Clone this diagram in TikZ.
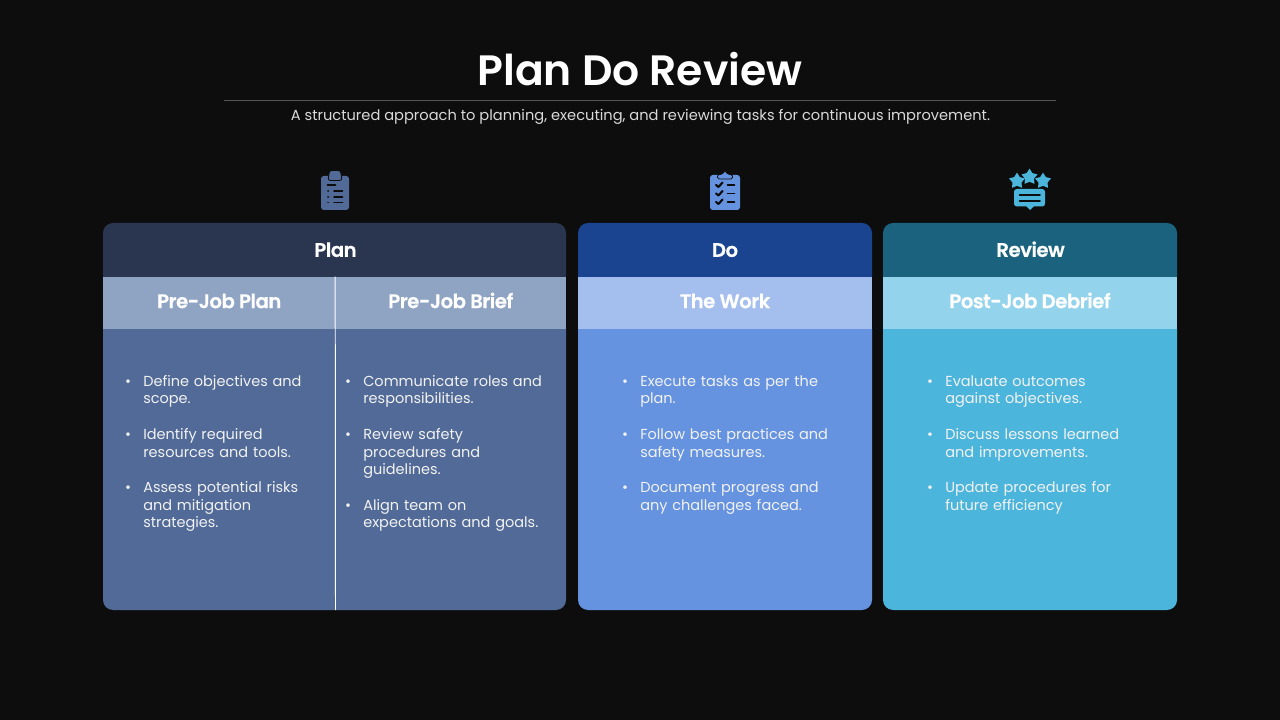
\documentclass[tikz,border=0pt]{standalone}
\usepackage{fontspec}
\setmainfont{Poppins}
\newfontfamily\semifont[LetterSpace=-2.5,FakeBold=0.4]{Poppins SemiBold}
\newfontfamily\titlefont{Poppins SemiBold}
\usetikzlibrary{shapes.geometric}

\definecolor{bgdark}{HTML}{0D0D0D}
\definecolor{planhead}{HTML}{2A3650}
\definecolor{plansub}{HTML}{8FA3C3}
\definecolor{planbody}{HTML}{516A97}
\definecolor{dohead}{HTML}{1A448F}
\definecolor{dosub}{HTML}{A4BFEE}
\definecolor{dobody}{HTML}{6593E0}
\definecolor{revhead}{HTML}{1A627E}
\definecolor{revsub}{HTML}{93D3EC}
\definecolor{revbody}{HTML}{4CB5DC}

\newenvironment{tasklist}{%
  \begin{list}{\textbullet}{\setlength{\leftmargin}{11.4pt}\setlength{\labelsep}{8.7pt}%
    \setlength{\labelwidth}{5.4pt}\setlength{\topsep}{0pt}\setlength{\partopsep}{0pt}%
    \setlength{\parsep}{0pt}\setlength{\itemsep}{12.8pt}\setlength{\rightmargin}{0pt}}%
  \raggedright}{\end{list}}

\begin{document}
\begin{tikzpicture}[x=0.025cm, y=-0.025cm,
        head/.style={font=\semifont\fontsize{14}{16}\selectfont, text=white, inner sep=0pt, text height=12pt, text depth=1.5pt},
        subbox/.style={font=\semifont\fontsize{14}{16}\selectfont, text=white, inner sep=0pt, minimum height=1.3cm, text height=11.5pt, text depth=4.2pt},
        items/.style={anchor=north west, inner sep=0pt, text width=5.5cm, text=white!95!black,
            font=\fontsize{10.3}{12.5}\selectfont},
        tick/.style={draw=bgdark, line width=1.2pt, line cap=round, line join=round},
        stardot/.style={star, star points=5, star point ratio=1.75, fill=revbody, inner sep=0pt, minimum size=0.42cm}]

        \useasboundingbox (0,0) rectangle (1280,720);
        \fill[bgdark] (0,0) rectangle (1280,720);

        % title
        \node[font=\titlefont\fontsize{30.2}{36}\selectfont, text=white, inner sep=0pt] (title) at (640,69.5) {Plan Do Review};
        \coordinate (ruleleft) at (224,100.5);
        \coordinate (ruleright) at (1056,100.5);
        \draw[draw=white!30!bgdark, line width=0.5pt] (ruleleft) -- (ruleright);
        \node[font=\fontsize{10.4}{14}\selectfont, text=white!85!black, inner sep=0pt] (subtitle) at (640.5,116.5)
            {A structured approach to planning, executing, and reviewing tasks for continuous improvement.};

        % panels
        \fill[planbody] (103,329) {[rounded corners=0.25cm] -- (103,610) -- (566,610)} -- (566,329) -- cycle;
        \fill[planhead] (103,277) {[rounded corners=0.25cm] -- (103,223) -- (566,223)} -- (566,277) -- cycle;
        \fill[dobody] (578,329) {[rounded corners=0.25cm] -- (578,610) -- (872,610)} -- (872,329) -- cycle;
        \fill[dohead] (578,277) {[rounded corners=0.25cm] -- (578,223) -- (872,223)} -- (872,277) -- cycle;
        \fill[revbody] (883,329) {[rounded corners=0.25cm] -- (883,610) -- (1177,610)} -- (1177,329) -- cycle;
        \fill[revhead] (883,277) {[rounded corners=0.25cm] -- (883,223) -- (1177,223)} -- (1177,277) -- cycle;

        \node[head] (plan)   at (335.5,249.5) {Plan};
        \node[head] (do)     at (725,249.5)   {Do};
        \node[head] (review) at (1030.5,249.5) {Review};

        \node[subbox, fill=plansub, minimum width=5.8125cm] (prejobplan)  at (219.25,303) {Pre-Job Plan};
        \node[subbox, fill=plansub, minimum width=5.7625cm] (prejobbrief) at (450.75,303) {Pre-Job Brief};
        \node[subbox, fill=dosub,   minimum width=7.35cm]   (thework)     at (725,303)    {The Work};
        \node[subbox, fill=revsub,  minimum width=7.35cm]   (debrief)     at (1030,303)   {Post-Job Debrief};

        \coordinate (splitend) at (335.5,610);
        \draw[white, line width=0.7pt] (prejobbrief.north west) -- (splitend);

        % bullet lists
        \node[items] (planitems) at (127,368.5) {\begin{tasklist}
            \item Define objectives and\\scope.
            \item Identify required\\resources and tools.
            \item Assess potential risks\\and mitigation\\strategies.
        \end{tasklist}};
        \node[items] (briefitems) at (347,368.5) {\begin{tasklist}
            \item Communicate roles and\\responsibilities.
            \item Review safety\\procedures and\\guidelines.
            \item Align team on\\expectations and goals.
        \end{tasklist}};
        \node[items] (workitems) at (624,368.5) {\begin{tasklist}
            \item Execute tasks as per the\\plan.
            \item Follow best practices and\\safety measures.
            \item Document progress and\\any challenges faced.
        \end{tasklist}};
        \node[items] (debriefitems) at (929,368.5) {\begin{tasklist}
            \item Evaluate outcomes\\against objectives.
            \item Discuss lessons learned\\and improvements.
            \item Update procedures for\\future efficiency
        \end{tasklist}};

        % plan icon
        \fill[planbody, rounded corners=0.07cm] (321,176) rectangle (349,210);
        \fill[planbody, draw=bgdark, line width=0.6pt, rounded corners=0.06cm] (328,180.5) -- (329.5,170.5) -- (340.5,170.5) -- (342,180.5) -- cycle;
        \draw[tick] (327.5,185) -- (335.5,185);
        \foreach \y in {191,197,202.5} {
            \draw[tick] (328,\y) -- (328.2,\y);
            \draw[tick] (334,\y) -- (342.5,\y);
        }

        % do icon
        \fill[dobody, rounded corners=0.07cm] (710,175) rectangle (740,210);
        \fill[dobody, draw=bgdark, line width=0.6pt, rounded corners=0.04cm] (717.5,179) -- (717.5,174.5) -- (722,174.5) -- (725,170.5) -- (728,174.5) -- (732.5,174.5) -- (732.5,179) -- cycle;
        \foreach \y in {185,193.5,202} {
            \draw[tick, line width=1.5pt] (716,\y) -- (718.5,\y+2) -- (722.5,\y-2.5);
            \draw[tick] (727.5,\y) -- (734.5,\y);
        }

        % review icon
        \node[stardot] (starleft)  at (1017,181) {};
        \node[stardot] (starmid)   at (1029.5,177) {};
        \node[stardot] (starright) at (1043,181) {};
        \fill[revbody, rounded corners=0.07cm] (1014,189) rectangle (1045,206.5);
        \fill[revbody] (1026,206) -- (1030,210) -- (1034,206) -- cycle;
        \draw[tick] (1019.5,195) -- (1040,195);
        \draw[tick] (1019.5,201) -- (1040,201);

    \end{tikzpicture}
\end{document}
